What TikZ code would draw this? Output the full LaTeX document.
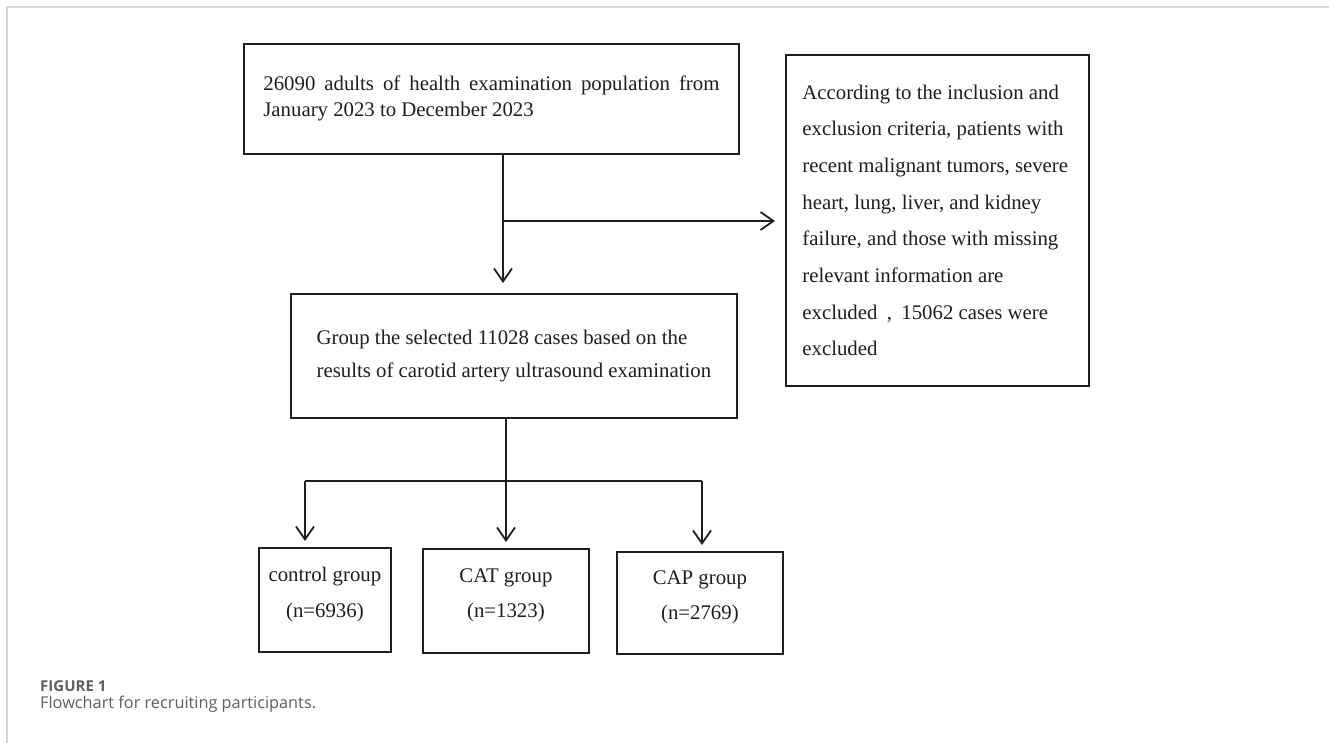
\documentclass[tikz,border=0pt]{standalone}
\usepackage{fontspec}
\setmainfont{Liberation Serif}
\newfontfamily\capfont{Open Sans}
\usetikzlibrary{arrows.meta,calc}
\definecolor{framecol}{HTML}{D4D4D4}
\definecolor{inkcol}{HTML}{1E1E1E}
\definecolor{capgrey}{HTML}{5E5E5E}
\begin{document}
\begin{tikzpicture}[x=1pt,y=-1pt,
  box/.style={draw=inkcol, line width=1.8pt, rectangle, inner sep=0pt, anchor=north west, text=inkcol},
  conn/.style={draw=inkcol, line width=1.8pt},
  arr/.style={conn, -{Straight Barb[length=13pt,width=18pt,line width=1.8pt]}},
  bodyfont/.style={font=\fontsize{20.8}{#1}\selectfont}
]
\useasboundingbox (0,0) rectangle (1329,743);
% frame
\draw[framecol, line width=1.6pt] (7,743) -- (7,7) -- (1329,7);

% boxes
\node[box, minimum width=495pt, minimum height=110pt, bodyfont=26pt, align=left] (top) at (243,43)
  {\makebox[456pt][s]{26090 adults of health examination population from}\\January 2023 to December 2023};
\node[box, minimum width=303pt, minimum height=331pt, bodyfont=36.7pt, align=left] (excl) at (785,54)
  {\parbox{270pt}{\raggedright According to the inclusion and\\exclusion criteria, patients with\\recent malignant tumors, severe\\heart, lung, liver, and kidney\\failure, and those with missing\\relevant information are\\excluded\hspace{0.45em},\hspace{0.45em}15062 cases were\\excluded}};
\node[box, minimum width=446pt, minimum height=124pt, bodyfont=33pt, align=left] (mid) at (290,293)
  {Group the selected 11028 cases based on the\\results of carotid artery ultrasound examination};
\node[box, minimum width=132pt, minimum height=104pt, bodyfont=36pt, align=center, text depth=15pt] (ctrl) at (258,547)
  {control group\\(n=6936)};
\node[box, minimum width=166pt, minimum height=104pt, bodyfont=35pt, align=center, text depth=15pt] (cat) at (422,548)
  {CAT group\\(n=1323)};
\node[box, minimum width=166pt, minimum height=102pt, bodyfont=35pt, align=center, text depth=15pt] (cap) at (616,551)
  {CAP group\\(n=2769)};

% connectors
\coordinate (a1) at (503,153);
\coordinate (a2) at (503,221);
\draw[arr, shorten >=10pt] (a1 |- top.south) -- (a1 |- mid.north);
\draw[arr, shorten >=10pt] (a2) -- (a2 -| excl.west);
\coordinate (b1) at (506,481);
\coordinate (bl) at (305,481);
\coordinate (br) at (702,481);
\draw[conn] (b1 |- mid.south) -- (b1);
\draw[conn] (bl) -- (br);
\draw[arr, shorten >=6pt] (bl) -- (bl |- ctrl.north);
\draw[arr, shorten >=6pt] (b1) -- (b1 |- cat.north);
\draw[arr, shorten >=6pt] (br) -- (br |- cap.north);

% caption
\node[anchor=base west, inner sep=0pt, text=capgrey, font=\capfont\bfseries\fontsize{15}{17}\selectfont] (fig) at (40,691.5) {FIGURE 1};
\node[anchor=base west, inner sep=0pt, text=capgrey, font=\capfont\fontsize{16.3}{19}\selectfont] (cap1) at (40,708) {Flowchart for recruiting participants.};
\end{tikzpicture}
\end{document}
